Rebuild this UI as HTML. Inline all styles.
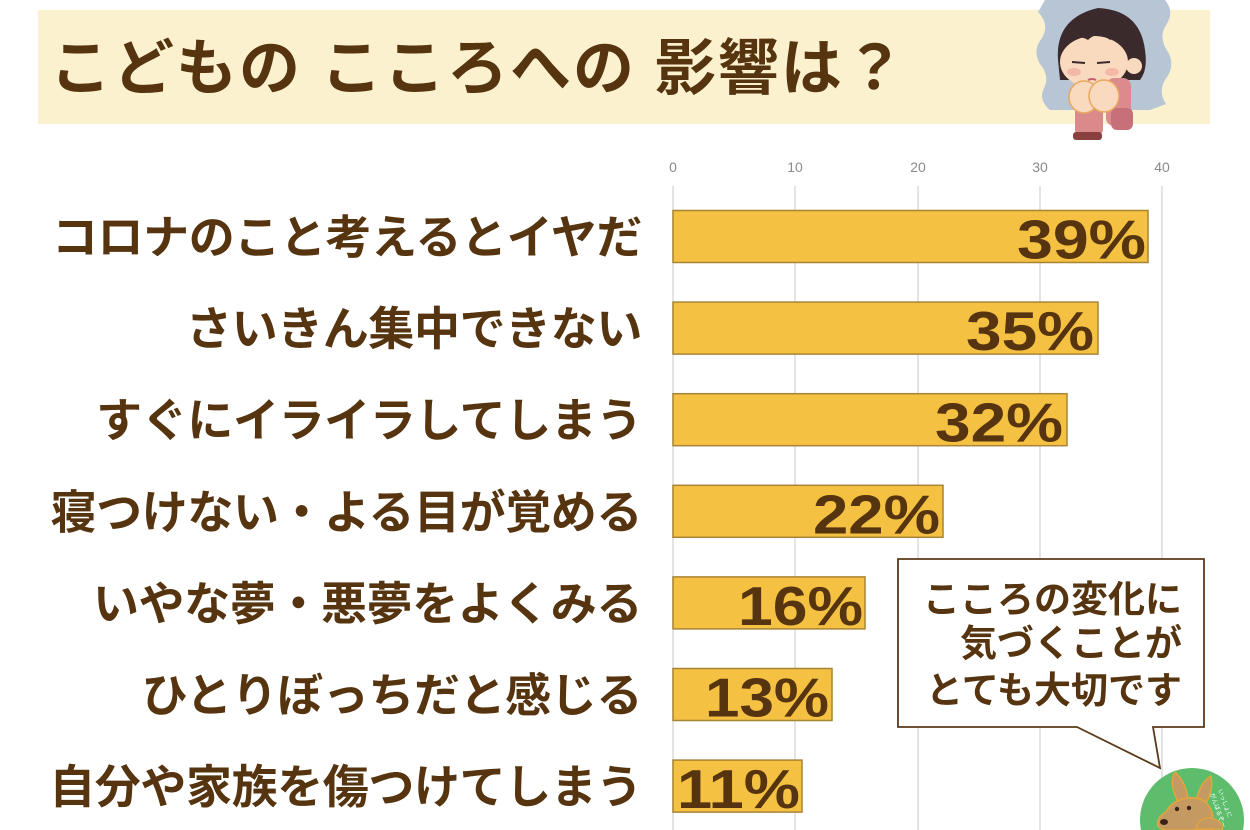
<!DOCTYPE html>
<html><head><meta charset="utf-8"><style>
html,body{margin:0;padding:0;background:#fff;overflow:hidden;width:1250px;height:830px;}
svg{display:block;}
.jp{font-family:"Liberation Sans","Noto Sans CJK JP",sans-serif;font-weight:bold;font-style:normal;fill:#55340f;}
.val{font-family:"Liberation Sans",sans-serif;font-weight:bold;font-style:normal;fill:#55340f;font-size:55px;}
.tick{font-family:"Liberation Sans",sans-serif;font-size:14px;fill:#8a8a8a;}
</style></head><body>
<svg width="1250" height="830" viewBox="0 0 1250 830" xmlns="http://www.w3.org/2000/svg">
<rect width="1250" height="830" fill="#fff"/>
<!-- banner -->
<rect x="38" y="10" width="1172" height="114" fill="#fcf1cf"/>
<text class="jp" x="50" y="89" font-size="61" letter-spacing="2">こどもの こころへの 影響は？</text>

<!-- girl illustration -->
<g>
<path d="M1045,0 L1165,0 Q1175,12 1166,25 Q1158,38 1168,52 Q1176,66 1165,80 Q1158,92 1166,104 L1150,110 L1050,110 Q1038,100 1044,88 Q1050,76 1040,64 Q1032,50 1042,38 Q1050,24 1038,12 Z" fill="#b8c5d5"/>
<path d="M1058,60 Q1055,18 1098,8 Q1140,10 1145,50 Q1148,70 1140,80 L1060,80 Z" fill="#3b2a2c"/>
<ellipse cx="1094" cy="62" rx="34" ry="26" fill="#f9dabf"/>
<path d="M1060,50 Q1075,32 1088,40 Q1098,30 1110,40 Q1122,32 1132,50 L1132,38 Q1120,18 1096,18 Q1068,20 1060,40 Z" fill="#3b2a2c"/>
<circle cx="1134" cy="66" r="8" fill="#f9dabf"/>
<ellipse cx="1074" cy="72" rx="7" ry="4" fill="#f4b8a8"/>
<ellipse cx="1112" cy="72" rx="7" ry="4" fill="#f4b8a8"/>
<path d="M1072,62 L1085,63 M1097,63 L1110,62" stroke="#3b2a2c" stroke-width="2"/>
<path d="M1088,80 Q1092,78 1096,80" stroke="#c0606a" stroke-width="2" fill="none"/>
<rect x="1106" y="78" width="25" height="48" rx="8" fill="#db8b8e"/>
<rect x="1111" y="108" width="22" height="22" rx="6" fill="#c8707a"/>
<rect x="1075" y="108" width="28" height="26" rx="4" fill="#da8a8a"/>
<rect x="1073" y="132" width="29" height="8" rx="3" fill="#8b4040"/>
<ellipse cx="1084" cy="97" rx="15" ry="16" fill="#f9dabf" stroke="#e8a860" stroke-width="1.5"/>
<ellipse cx="1104" cy="96" rx="15" ry="16" fill="#f9dabf" stroke="#e8a860" stroke-width="1.5"/>
</g>

<!-- gridlines -->
<g stroke="#dcdcdc" stroke-width="1.5">
<line x1="673" y1="186" x2="673" y2="830"/>
<line x1="795" y1="186" x2="795" y2="830"/>
<line x1="918" y1="186" x2="918" y2="830"/>
<line x1="1040" y1="186" x2="1040" y2="830"/>
<line x1="1162" y1="186" x2="1162" y2="830"/>
</g>
<g class="tick" text-anchor="middle">
<text x="673" y="172">0</text>
<text x="795" y="172">10</text>
<text x="918" y="172">20</text>
<text x="1040" y="172">30</text>
<text x="1162" y="172">40</text>
</g>

<!-- bars -->
<g fill="#f5c142" stroke="#a88435" stroke-width="1.5">
<rect x="673" y="210.5" width="475" height="52"/>
<rect x="673" y="302.1" width="425" height="52"/>
<rect x="673" y="393.7" width="394" height="52"/>
<rect x="673" y="485.3" width="270" height="52"/>
<rect x="673" y="576.9" width="192" height="52"/>
<rect x="673" y="668.5" width="159" height="52"/>
<rect x="673" y="760.1" width="129" height="52"/>
</g>
<g class="val">
<text x="1017" y="258.5" textLength="129" lengthAdjust="spacingAndGlyphs">39%</text>
<text x="966" y="350.1" textLength="128" lengthAdjust="spacingAndGlyphs">35%</text>
<text x="935" y="441.7" textLength="128" lengthAdjust="spacingAndGlyphs">32%</text>
<text x="813" y="533.3" textLength="127" lengthAdjust="spacingAndGlyphs">22%</text>
<text x="738" y="624.9" textLength="125" lengthAdjust="spacingAndGlyphs">16%</text>
<text x="705" y="716.5" textLength="124" lengthAdjust="spacingAndGlyphs">13%</text>
<text x="677" y="808.1" textLength="123" lengthAdjust="spacingAndGlyphs">11%</text>
</g>

<!-- labels -->
<g class="jp" font-size="46" letter-spacing="-0.4" text-anchor="end">
<text x="642" y="253.5">コロナのこと考えるとイヤだ</text>
<text x="642" y="345.1">さいきん集中できない</text>
<text x="642" y="436.7">すぐにイライラしてしまう</text>
<text x="642" y="528.3">寝つけない・よる目が覚める</text>
<text x="642" y="619.9">いやな夢・悪夢をよくみる</text>
<text x="642" y="711.5">ひとりぼっちだと感じる</text>
<text x="642" y="803.1">自分や家族を傷つけてしまう</text>
</g>

<!-- callout -->
<path d="M898,559 L1204,559 L1204,727 L1153,727 L1160,768 L1077,727 L898,727 Z" fill="#fff" stroke="#5a3a1a" stroke-width="1.8" stroke-linejoin="miter"/>
<g class="jp" font-size="37" text-anchor="end">
<text x="1182" y="612">こころの変化に</text>
<text x="1182" y="656">気づくことが</text>
<text x="1182" y="703">とても大切です</text>
</g>

<!-- kangaroo badge -->
<g>
<path d="M1140.97,830 A52,52 0 1 1 1243.03,830 Z" fill="#5dbd6c"/>
<path d="M1180,805 Q1168,785 1175,772 Q1186,782 1188,800 Z" fill="#c49a62" stroke="#e6a53a" stroke-width="1.5"/>
<path d="M1196,802 Q1200,782 1211,776 Q1214,792 1204,806 Z" fill="#c49a62" stroke="#e6a53a" stroke-width="1.5"/>
<path d="M1212,812 Q1206,796 1188,798 Q1172,800 1166,812 Q1156,818 1158,826 Q1160,829 1166,830 L1214,830 Z" fill="#c49a62" stroke="#e6a53a" stroke-width="1.5"/>
<ellipse cx="1164" cy="822" rx="4" ry="3" fill="#3a2418"/>
<circle cx="1177" cy="809" r="2.2" fill="#3a2418"/>
<circle cx="1189" cy="808" r="2.2" fill="#3a2418"/>
<path d="M1196,829 Q1198,818 1210,818 Q1222,820 1223,829 Z" fill="#c49a62" stroke="#e6a53a" stroke-width="1.2"/>
<text x="1218" y="790" font-family="Liberation Sans,'Noto Sans CJK JP',sans-serif" font-size="6" fill="#fff" transform="rotate(70 1218 790)">いっしょに</text>
<text x="1210" y="794" font-family="Liberation Sans,'Noto Sans CJK JP',sans-serif" font-size="6" fill="#fff" transform="rotate(70 1210 794)">がんばるぞー</text>
</g>
</svg>
</body></html>
